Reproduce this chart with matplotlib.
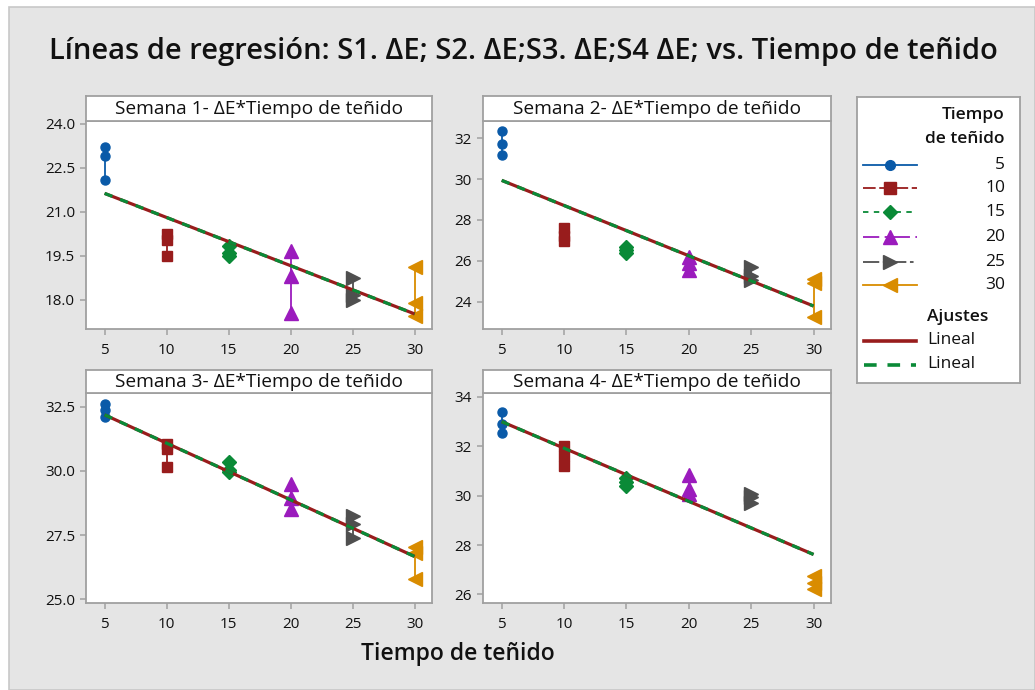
import numpy as np
import matplotlib
matplotlib.use("Agg")
import matplotlib.pyplot as plt
from matplotlib.lines import Line2D
from matplotlib.patches import Rectangle

plt.rcParams['font.family'] = ['Open Sans', 'DejaVu Sans']

# ---------------- data ----------------
tiempos = [5, 10, 15, 20, 25, 30]
semana1 = [[23.2, 22.9, 22.1], [20.25, 20.05, 19.5], [19.85, 19.6, 19.5],
           [19.65, 18.8, 17.55], [18.75, 18.15, 18.0], [19.1, 17.9, 17.45]]
semana2 = [[32.35, 31.7, 31.2], [27.6, 27.2, 26.95], [26.7, 26.55, 26.4],
           [26.2, 25.9, 25.55], [25.7, 25.25, 25.05], [25.1, 24.9, 23.25]]
semana3 = [[32.6, 32.35, 32.1], [31.05, 30.85, 30.15], [30.35, 30.05, 29.95],
           [29.5, 28.95, 28.5], [28.25, 27.95, 27.4], [27.05, 26.8, 25.8]]
semana4 = [[33.4, 32.9, 32.55], [32.0, 31.6, 31.2], [30.7, 30.55, 30.4],
           [30.85, 30.25, 30.05], [30.05, 29.95, 29.7], [26.75, 26.45, 26.2]]
semanas = [semana1, semana2, semana3, semana4]
titulos = ["Semana 1- ΔE*Tiempo de teñido", "Semana 2- ΔE*Tiempo de teñido",
           "Semana 3- ΔE*Tiempo de teñido", "Semana 4- ΔE*Tiempo de teñido"]
yticks = [[18.0, 19.5, 21.0, 22.5, 24.0], [24, 26, 28, 30, 32],
          [25.0, 27.5, 30.0, 32.5], [26, 28, 30, 32, 34]]
ytick_fmt = ["{:.1f}", "{:.0f}", "{:.1f}", "{:.0f}"]
ylims = [(17.0, 24.1), (22.66, 32.85), (24.86, 33.03), (25.65, 34.16)]
xlim = (3.5, 31.4)
xticks = [5, 10, 15, 20, 25, 30]

# ---------------- styles ----------------
colores = ['#0a5aa8', '#981c1c', '#0a8a37', '#9b1bbd', '#4f4f4f', '#d98c00']
marcadores = ['o', 's', 'D', '^', '>', '<']
msizes = [6.5, 7.5, 7, 9.5, 9.5, 9.5]
leg_ls = ['-', (0, (7, 2)), (0, (3, 3)), (0, (9, 3, 2, 3)), (0, (9, 2, 2, 2)), '-']
rojo_fit = '#981c1c'
verde_fit = '#0a8a37'
gris_eje = '#a0a0a0'
fondo = '#e5e5e5'
texto = '#111111'

W, H = 1035, 690
fig = plt.figure(figsize=(W / 100, H / 100), dpi=100)
fig.patch.set_facecolor('white')
fig.patches.append(Rectangle((9 / W, 0), 1 - 9 / W, 1 - 7 / H, transform=fig.transFigure,
                             facecolor=fondo, edgecolor='#c8c8c8', lw=1.2, zorder=-10))


def px_axes(x0, y0, x1, y1, **kw):
    return fig.add_axes([x0 / W, 1 - y1 / H, (x1 - x0) / W, (y1 - y0) / H], **kw)


panel_px = [(86, 121, 432, 329), (483, 121, 831, 329),
            (86, 393, 432, 603), (483, 393, 831, 603)]
title_px = [(86, 96, 432, 121), (483, 96, 831, 121),
            (86, 370, 432, 393), (483, 370, 831, 393)]

for k in range(4):
    x0, y0, x1, y1 = panel_px[k]
    ax = px_axes(x0, y0, x1, y1)
    ax.set_facecolor('white')
    datos = semanas[k]
    xs_all, ys_all = [], []
    for i, t in enumerate(tiempos):
        ys = sorted(datos[i])
        xs = [t] * len(ys)
        ax.plot(xs, ys, color=colores[i], lw=1.3, ls='-', marker=marcadores[i],
                ms=msizes[i], mec=colores[i], mfc=colores[i], zorder=3)
        xs_all += xs
        ys_all += ys
    b, a = np.polyfit(xs_all, ys_all, 1)
    xf = np.array([tiempos[0], tiempos[-1]])
    ax.plot(xf, a + b * xf, color=rojo_fit, lw=2.3, zorder=4, solid_capstyle='butt')
    ax.plot(xf, a + b * xf, color=verde_fit, lw=2.3, zorder=5,
            dashes=(2.6, 2.6), dash_capstyle='butt')
    ax.set_xlim(*xlim)
    ax.set_ylim(*ylims[k])
    ax.set_xticks(xticks)
    ax.set_xticklabels([str(v) for v in xticks])
    ax.set_yticks(yticks[k])
    ax.set_yticklabels([ytick_fmt[k].format(v) for v in yticks[k]])
    for s in ax.spines.values():
        s.set_color(gris_eje)
        s.set_linewidth(1.3)
    ax.tick_params(direction='out', length=4.5, width=1.1, color=gris_eje,
                   labelsize=11, labelcolor=texto, pad=3.5)
    ax.tick_params(axis='x', pad=5.5)
    # title box
    tx0, ty0, tx1, ty1 = title_px[k]
    tax = px_axes(tx0, ty0, tx1, ty1)
    tax.set_facecolor('white')
    tax.set_xticks([])
    tax.set_yticks([])
    for s in tax.spines.values():
        s.set_color(gris_eje)
        s.set_linewidth(1.3)
    tax.text(0.5, 0.46, titulos[k], ha='center', va='center', fontsize=13.8,
             color=texto, transform=tax.transAxes)

# main title and x label
fig.text(523 / W, 1 - 51 / H,
         "Líneas de regresión: S1. ΔE; S2. ΔE;S3. ΔE;S4 ΔE; vs. Tiempo de teñido",
         ha='center', va='center', fontsize=21, fontweight='semibold', color=texto)
fig.text(458 / W, 1 - 654 / H, "Tiempo de teñido", ha='center', va='center',
         fontsize=16.5, fontweight='semibold', color=texto)

# ---------------- legend ----------------
lx0, ly0, lx1, ly1 = 857, 97, 1020, 383
lax = px_axes(lx0, ly0, lx1, ly1)
lax.set_xlim(lx0, lx1)
lax.set_ylim(ly1, ly0)
lax.set_facecolor('white')
lax.set_xticks([])
lax.set_yticks([])
for s in lax.spines.values():
    s.set_color(gris_eje)
    s.set_linewidth(1.3)
fs_leg = 12.5
lax.text(1005, 115, "Tiempo", ha='right', va='center', fontsize=fs_leg, fontweight='semibold', color=texto)
lax.text(1005, 139, "de teñido", ha='right', va='center', fontsize=fs_leg, fontweight='semibold', color=texto)
ypos = [165, 188, 212, 237, 262, 285]
for i, t in enumerate(tiempos):
    lax.add_line(Line2D([863, 917], [ypos[i], ypos[i]], color=colores[i], lw=1.3,
                        ls=leg_ls[i]))
    lax.add_line(Line2D([890], [ypos[i]], marker=marcadores[i], ms=msizes[i] + 0.5,
                        color=colores[i], ls='none'))
    lax.text(1005, ypos[i], str(t), ha='right', va='center', fontsize=fs_leg, color=texto)
lax.text(927, 317, "Ajustes", ha='left', va='center', fontsize=fs_leg, fontweight='semibold', color=texto)
lax.add_line(Line2D([864, 916], [341, 341], color=rojo_fit, lw=2.6))
lax.text(927, 340, "Lineal", ha='left', va='center', fontsize=fs_leg, color=texto)
lax.add_line(Line2D([864, 916], [365, 365], color=verde_fit, lw=2.6, dashes=(3.5, 3.0)))
lax.text(927, 364, "Lineal", ha='left', va='center', fontsize=fs_leg, color=texto)

fig.savefig("out.png", dpi=100, facecolor=fig.get_facecolor())
